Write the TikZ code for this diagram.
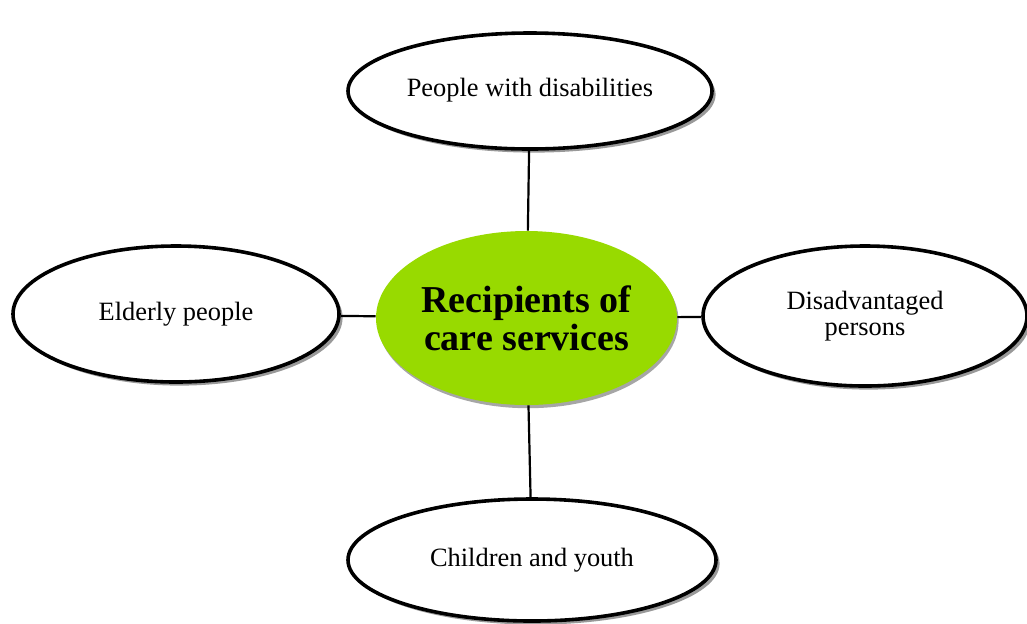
\documentclass[tikz,border=0pt]{standalone}
\usepackage{fontspec}
\setmainfont{Liberation Serif}
\usetikzlibrary{shapes.geometric,shadows}
\definecolor{hubgreen}{RGB}{152,218,0}
\tikzset{
  grp/.style={ellipse, fill=white, draw=black, line width=1.8pt, inner sep=0pt, align=center,
    font=\fontsize{13.2}{13}\selectfont,
    drop shadow={shadow xshift=1.8pt, shadow yshift=-1.8pt, opacity=1, fill=black!40}},
  hub/.style={ellipse, fill=hubgreen, draw=none, inner sep=0pt, align=center,
    font=\fontsize{19}{19}\selectfont\bfseries,
    drop shadow={shadow xshift=0.8pt, shadow yshift=-1.6pt, opacity=1, fill=black!35}},
  link/.style={draw=black, line width=1.1pt}
}
\begin{document}
\begin{tikzpicture}[x=0.5pt, y=-0.5pt]
  \useasboundingbox (0,0) rectangle (1027,623);

  % Central node
  \node[hub, minimum width=150.5pt, minimum height=87pt] (hub) at (526.5,318)
    {Recipients of\\care services};

  % Recipient groups
  \node[grp, minimum width=182pt, minimum height=58pt, text depth=4pt] (dis) at (530,91)
    {People with disabilities};
  \node[grp, minimum width=163pt, minimum height=68pt] (old) at (176,314) {Elderly people};
  \node[grp, minimum width=162pt, minimum height=70pt] (poor) at (865,316)
    {Disadvantaged\\persons};
  \node[grp, minimum width=184pt, minimum height=61pt] (young) at (532,560) {Children and youth};

  % Spokes
  \draw[link] (hub) -- (dis);
  \draw[link] (hub) -- (old);
  \draw[link] (hub) -- (poor);
  \draw[link] (hub) -- (young);
\end{tikzpicture}
\end{document}
